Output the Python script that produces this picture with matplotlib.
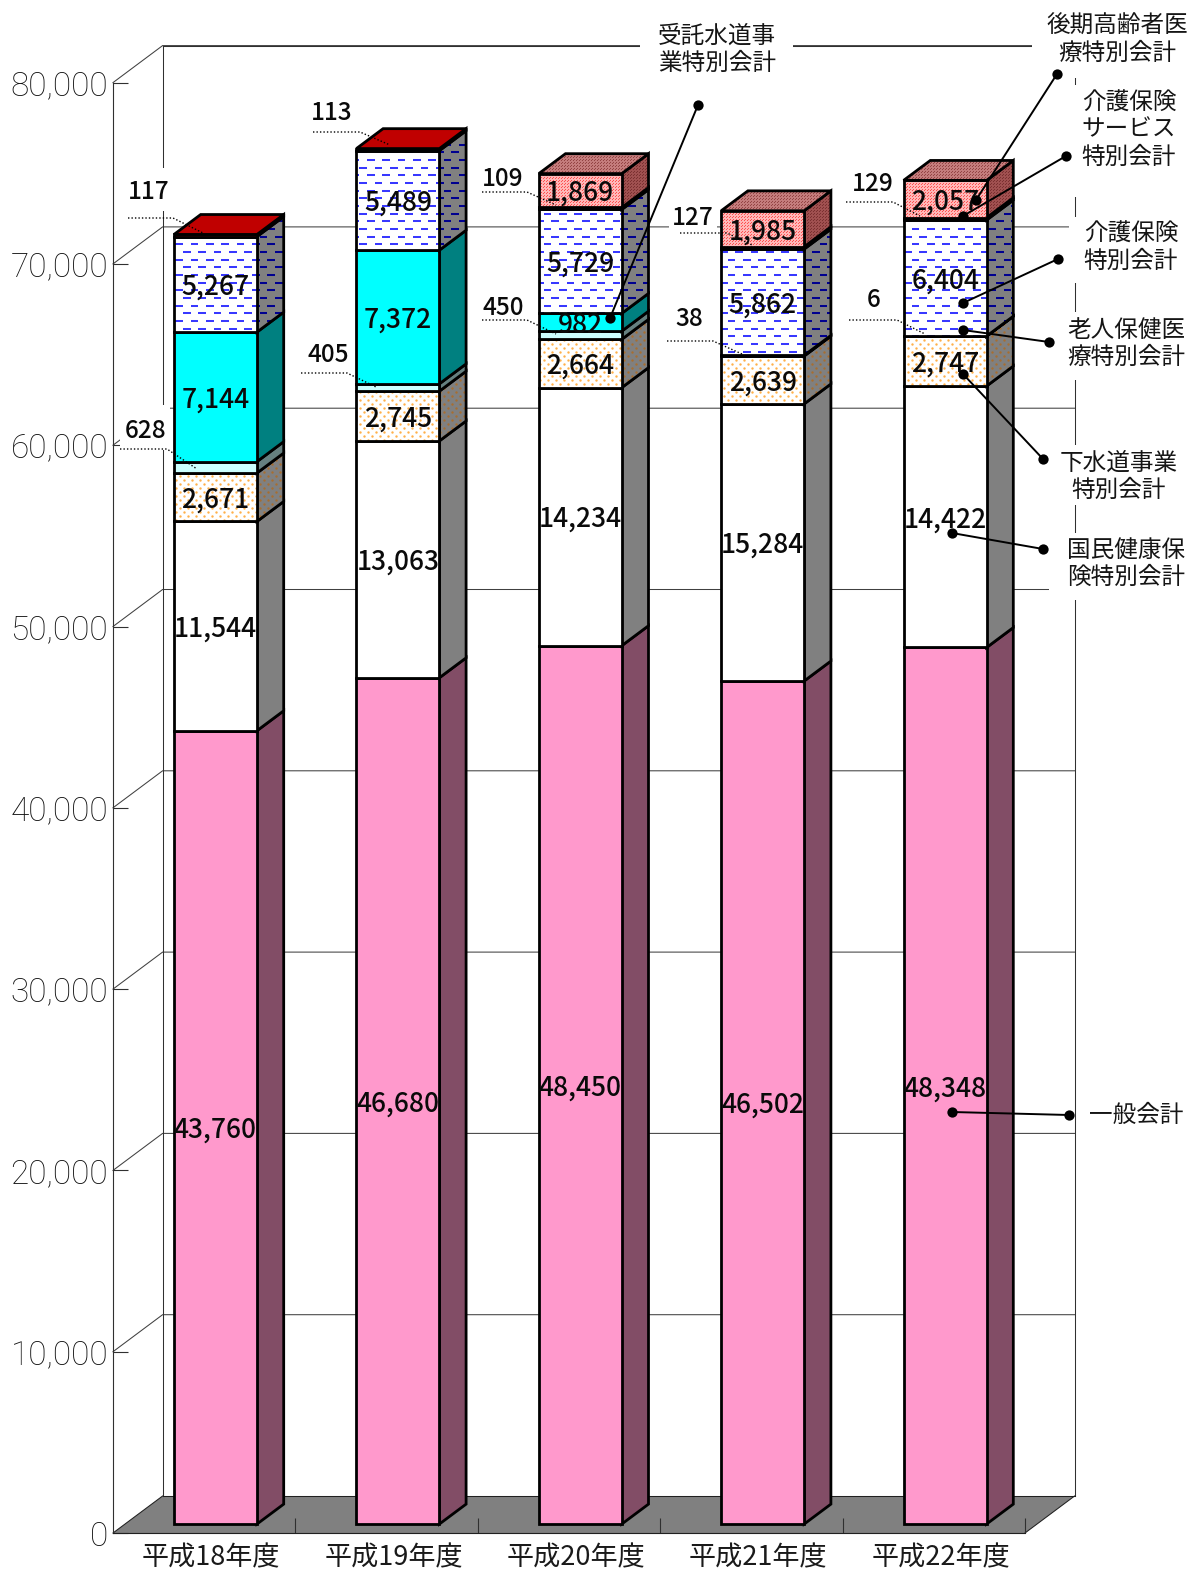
import numpy as np
import matplotlib
matplotlib.use('Agg')
import matplotlib.pyplot as plt
from matplotlib.collections import LineCollection
from matplotlib.patches import Polygon, Rectangle
from matplotlib.transforms import Affine2D, ScaledTranslation

plt.rcParams['font.family'] = ['Noto Sans CJK JP', 'DejaVu Sans']

years = ['平成18年度', '平成19年度', '平成20年度', '平成21年度', '平成22年度']
general = [43760, 46680, 48450, 46502, 48348]
kokuho = [11544, 13063, 14234, 15284, 14422]
sewage = [2671, 2745, 2664, 2639, 2747]
elder = [628, 405, 450, 38, 6]
kaigo = [7144, 7372, 982, 0, 0]
service = [5267, 5489, 5729, 5862, 6404]
water = [117, 113, 109, 127, 129]
kouki = [0, 0, 1869, 1985, 2057]
yticks = [0, 10000, 20000, 30000, 40000, 50000, 60000, 70000, 80000]

series = [
    (general, 'solid', '#FF99CC', '#824D66', True),
    (kokuho, 'solid', '#FFFFFF', '#808080', True),
    (sewage, 'dots', '#FFFFFF', '#808080', True),
    (elder, 'solid', '#CCFFFF', '#668080', False),
    (kaigo, 'solid', '#00FFFF', '#008080', True),
    (service, 'dash', '#FFFFFF', '#808080', True),
    (water, 'solid', '#C00000', '#800000', False),
    (kouki, 'red', '#FF5050', '#7A3030', True),
]

W, H = 1192, 1572
fig = plt.figure(figsize=(W / 100, H / 100), dpi=100)
L, R, Y0, Y8 = 113.0, 1025.0, 1533.0, 82.6
ax = fig.add_axes([L / W, 1 - Y0 / H, (R - L) / W, (Y0 - Y8) / H])
ax.set_xlim(0, 5)
ax.set_ylim(0, 80000)
px = Affine2D().scale(1 / W, -1 / H).translate(0, 1) + fig.transFigure
xunit = (R - L) / 5
yunit = (Y0 - Y8) / 80000
DX, DY = 49.6 / xunit, 37.0 / yunit


def proj(x, y, d):
    return x + d * DX, y + d * DY


def to_px(pts):
    return (ax.transData + px.inverted()).transform(pts)


GRID = '#404040'
# floor
ax.fill(*zip(proj(0, 0, 0), proj(0, 0, 1), proj(5, 0, 1), proj(5, 0, 0)),
        fc='#808080', ec='none', zorder=0.5, clip_on=False)
# walls
for v in yticks[1:]:
    a, b = proj(0, v, 0), proj(0, v, 1)
    c = proj(5, v, 1)
    ax.plot([a[0], b[0], c[0]], [a[1], b[1], c[1]], color=GRID, lw=0.75, zorder=1, clip_on=False)
for xx in (0, 5):
    a, b = proj(xx, 0, 1), proj(xx, 80000, 1)
    ax.plot([a[0], b[0]], [a[1], b[1]], color='#303030', lw=0.75, zorder=1, clip_on=False)
a, b = proj(0, 80000, 1), proj(5, 80000, 1)
ax.plot([a[0], b[0]], [a[1], b[1]], color='#303030', lw=0.75, zorder=1, clip_on=False)
for xx in (0, 5):
    a, b = proj(xx, 0, 0), proj(xx, 0, 1)
    ax.plot([a[0], b[0]], [a[1], b[1]], color='#202020', lw=0.75, zorder=1.2, clip_on=False)
a, b = proj(0, 0, 1), proj(5, 0, 1)
ax.plot([a[0], b[0]], [a[1], b[1]], color='#202020', lw=0.75, zorder=1.2, clip_on=False)


def white_box(x0, y0, x1, y1):
    ax.add_patch(Rectangle((x0, y0), x1 - x0, y1 - y0, transform=px, fc='white', ec='none',
                           zorder=2, clip_on=False))


for b in [(640, 15, 793, 75), (1032, 5, 1192, 78), (1069, 85, 1192, 197), (1069, 217, 1192, 283),
          (1050, 312, 1192, 380), (1060, 445, 1192, 505), (1049, 533, 1192, 600),
          (120, 405, 170, 450), (128, 168, 170, 211), (669, 205, 717, 232)]:
    white_box(*b)

BW = 83.0 / xunit
D0 = 11.3 / 49.6
D1 = 38.0 / 49.6
BASE = 12.0 / 49.6
z = 3.0
down3 = ScaledTranslation(0, -3 / 100, fig.dpi_scale_trans)


def add_poly(pts, fc, pattern, dark):
    global z
    z += 0.01
    poly = Polygon(pts, closed=True, fc=fc, ec='none', zorder=z)
    ax.add_patch(poly)
    P = to_px(np.array(pts))
    xmin, ymin = P.min(axis=0)
    xmax, ymax = P.max(axis=0)
    z += 0.01
    if pattern == 'dash':
        segs = []
        for k in range(int((ymin - 240) // 7.67), int((ymax - 240) // 7.67) + 2):
            yy = 244.3 + k * 7.67
            off = (k % 2) * 7.67
            for m in range(-1, 80):
                xs = 160 + off + m * 15.34
                if xs + 8 < xmin or xs > xmax:
                    continue
                segs.append([(xs, yy), (xs + 7.7, yy)])
        lc = LineCollection(segs, colors='#000090' if dark else '#3838FF', linewidths=1.45,
                            transform=px, zorder=z, capstyle='butt')
        ax.add_collection(lc, autolim=False)
        lc.set_clip_path(poly)
    elif pattern in ('dots', 'red'):
        step = 8.0 if pattern == 'dots' else 3.0
        rows = np.arange(np.floor(ymin / (step / 2)), np.ceil(ymax / (step / 2)) + 1)
        xs, ys = [], []
        for r in rows:
            col = np.arange(np.floor(xmin / step), np.ceil(xmax / step) + 1) * step + (r % 2) * step / 2
            xs.extend(col)
            ys.extend([r * step / 2] * len(col))
        if pattern == 'dots':
            c = '#A86E30' if dark else '#FFB04A'
            s = 3.0
        else:
            c = dark if isinstance(dark, str) else '#FFB8B8'
            s = 0.9
        sc = ax.scatter(xs, ys, s=s, c=c, marker='o' if pattern == 'dots' else 's', linewidths=0,
                        transform=px, zorder=z)
        sc.set_clip_path(poly)
    z += 0.01
    ax.add_patch(Polygon(pts, closed=True, fc='none', ec='black', lw=2.0, joinstyle='miter', zorder=z))


for i in range(5):
    cx = i + 0.5 + D0 * DX
    left, right = cx - BW / 2, cx + BW / 2
    sd = (D1 - D0) * DX
    sh = (D1 - D0) * DY
    cum = BASE * DY
    top_info = None
    for vals, pat, front, side, lab in series:
        v = vals[i]
        if v == 0:
            continue
        b, t = cum, cum + v
        side_dark = True if pat != 'red' else '#A05050'
        add_poly([(right, b), (right + sd, b + sh), (right + sd, t + sh), (right, t)], side, pat, side_dark)
        ax.bar(cx, v, BW, bottom=b, color=front, edgecolor='none', zorder=z + 0.005)
        add_poly([(left, b), (right, b), (right, t), (left, t)], front, pat, False)
        if lab:
            ax.text(cx, (b + t) / 2, f'{v:,}', ha='center', va='center', fontsize=19, fontweight='medium',
                    color='#0A0A0A', zorder=50, transform=ax.transData + down3)
        cum = t
        top_info = (pat, front, side)
    pat, front, side = top_info
    topc = '#C00000' if pat == 'solid' else '#944444'
    add_poly([(left, cum), (right, cum), (right + sd, cum + sh), (left + sd, cum + sh)], topc, pat,
             '#C47C7C' if pat == 'red' else False)

# axes
for s in ('top', 'right'):
    ax.spines[s].set_visible(False)
ax.spines['left'].set_color('#303030')
ax.spines['left'].set_linewidth(0.8)
ax.spines['bottom'].set_color('#202020')
ax.spines['bottom'].set_linewidth(0.8)
ax.patch.set_alpha(0)
ax.set_yticks(yticks)
ax.set_yticklabels([f'{v:,}' for v in yticks], fontsize=24, color='#111111',
                   family=['Roboto', 'DejaVu Sans'], fontweight='light')
ax.tick_params(axis='y', direction='in', length=10.8, width=0.8, color='#303030', pad=3.5)
ax.set_xticks(range(1, 6))
ax.set_xticklabels([])
ax.tick_params(axis='x', direction='in', length=10.8, width=0.8, color='#303030')
ax.set_xticks(np.arange(5) + 0.5 + 7 / xunit, minor=True)
ax.set_xticklabels(years, minor=True, fontsize=19.5, color='#1A1A1A')
ax.tick_params(axis='x', which='minor', length=0, pad=8)

# small value labels with dotted leaders (elder and water values)
small_px = [
    (water[0], 149, 192, [(128, 218), (173, 218), (203, 233)]),
    (water[1], 332, 113, [(313, 132), (360, 132), (390, 145)]),
    (elder[0], 146, 431, [(120, 449), (167, 449), (197, 469)]),
    (elder[1], 328, 355, [(301, 373), (347, 373), (376, 387)]),
    (water[2], 503, 179, [(482, 192), (527, 192), (556, 205)]),
    (elder[2], 503, 308, [(482, 320), (527, 320), (556, 334)]),
    (water[3], 693, 218, [(680, 233), (727, 233), (752, 245)]),
    (elder[3], 689, 319, [(667, 341), (713, 341), (742, 354)]),
    (water[4], 873, 184, [(846, 202), (893, 202), (920, 216)]),
    (elder[4], 874, 300, [(849, 320), (897, 320), (925, 334)]),
]
for v, x, y, pts in small_px:
    ax.text(x, y, str(v), transform=px, ha='center', va='center', fontsize=17.5, fontweight='medium',
            color='#0A0A0A', zorder=2.5, clip_on=False)
    xs, ys = zip(*pts)
    ax.plot(xs, ys, transform=px, color='black', lw=1.0, ls=(0, (1, 1.5)), zorder=55, clip_on=False)

# account labels
labels = [
    ('受託水道事\n業特別会計', 717, 50),
    ('後期高齢者医\n療特別会計', 1117, 40),
    ('介護保険\nサービス\n特別会計', 1129, 130),
    ('介護保険\n特別会計', 1131, 248),
    ('老人保健医\n療特別会計', 1126, 344),
    ('下水道事業\n特別会計', 1119, 477),
    ('国民健康保\n険特別会計', 1126, 564),
    ('一般会計', 1136, 1115),
]
for t, x, y in labels:
    ax.text(x, y, t, transform=px, ha='center', va='center', ma='center', fontsize=17, color='#151515',
            linespacing=1.22, zorder=2.5, clip_on=False)

leaders = [
    ((698, 105), (610, 318)), ((1057, 74), (976, 200)), ((1066, 156), (963, 216)),
    ((1058, 259), (963, 303)), ((1049, 342), (963, 330)), ((1043, 459), (963, 374)),
    ((1043, 549), (952, 533)), ((1069, 1115), (952, 1112)),
]
for a, b in leaders:
    ax.plot([a[0], b[0]], [a[1], b[1]], transform=px, color='black', lw=1.4, marker='o', ms=7.4,
            mew=0, zorder=60, clip_on=False)

ax.set_xlim(0, 5)
ax.set_ylim(0, 80000)
fig.savefig('out.png', dpi=100, facecolor='white')
